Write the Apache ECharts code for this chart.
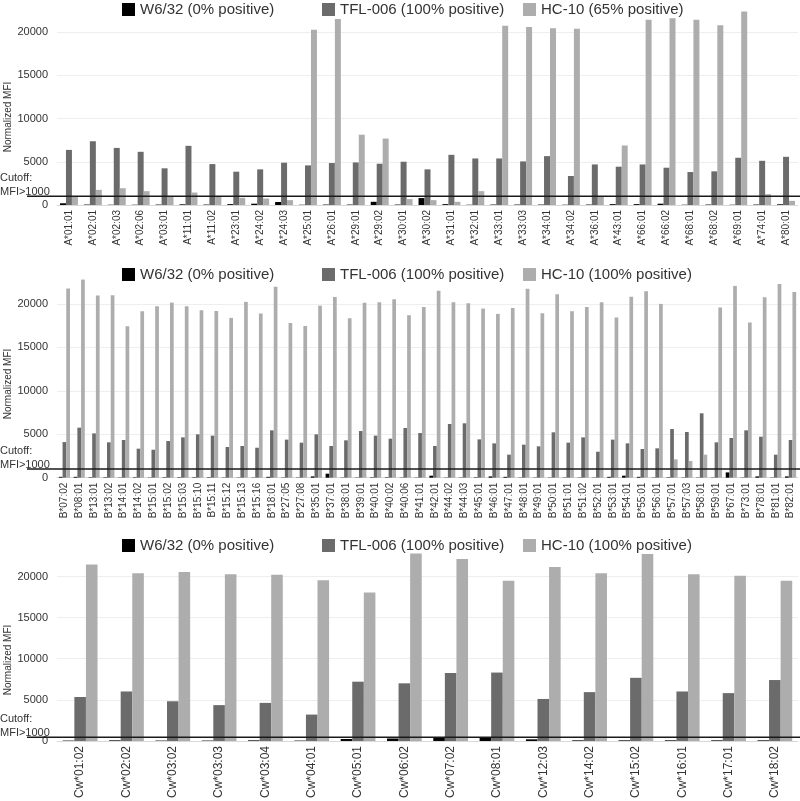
<!DOCTYPE html>
<html>
<head>
<meta charset="utf-8">
<script src="https://cdn.jsdelivr.net/npm/echarts@6/dist/echarts.min.js"></script>
<style>
  html, body { margin: 0; padding: 0; background: #fff; }
  #chart { width: 800px; height: 801px; }
</style>
</head>
<body>
<div id="chart"></div>
<script>
// HLA-A panel
var aAlleles = ['A*01:01','A*02:01','A*02:03','A*02:06','A*03:01','A*11:01','A*11:02','A*23:01','A*24:02','A*24:03',
  'A*25:01','A*26:01','A*29:01','A*29:02','A*30:01','A*30:02','A*31:01','A*32:01','A*33:01','A*33:03',
  'A*34:01','A*34:02','A*36:01','A*43:01','A*66:01','A*66:02','A*68:01','A*68:02','A*69:01','A*74:01','A*80:01'];
var aW632 = [200,50,30,30,50,80,50,100,150,350, 30,50,50,370,50,800,100,30,50,50, 50,30,50,100,100,150,30,50,30,50,80];
var aTFL = [6370,7370,6600,6150,4240,6840,4730,3850,4120,4890, 4580,4850,4920,4770,5000,4120,5800,5380,5380,5040,
  5650,3350,4690,4430,4690,4310,3810,3890,5460,5110,5570];
var aHC10 = [980,1750,1940,1600,1020,1440,1000,830,750,560, 20270,21500,8130,7680,680,560,370,1600,20730,20580,
  20420,20380,940,6880,21420,21600,21420,20770,22380,1250,480];

// HLA-B panel
var bAlleles = ['B*07:02','B*08:01','B*13:01','B*13:02','B*14:01','B*14:02','B*15:01','B*15:02','B*15:03','B*15:10',
  'B*15:11','B*15:12','B*15:13','B*15:16','B*18:01','B*27:05','B*27:08','B*35:01','B*37:01','B*38:01',
  'B*39:01','B*40:01','B*40:02','B*40:06','B*41:01','B*42:01','B*44:02','B*44:03','B*45:01','B*46:01',
  'B*47:01','B*48:01','B*49:01','B*50:01','B*51:01','B*51:02','B*52:01','B*53:01','B*54:01','B*55:01',
  'B*56:01','B*57:01','B*57:03','B*58:01','B*59:01','B*67:01','B*73:01','B*78:01','B*81:01','B*82:01'];
var bW632 = [100,100,50,50,30,50,30,50,50,50, 50,30,30,30,100,30,30,150,460,30,
  30,50,50,30,30,230,30,30,50,150, 100,30,30,30,30,30,30,100,230,100,
  30,50,30,30,30,610,30,150,30,150];
var bTFL = [4100,5760,5100,4070,4340,3340,3220,4220,4640,4990, 4840,3530,3650,3450,5450,4380,4030,4990,3650,4300,
  5370,4840,4490,5720,5140,3650,6180,6260,4410,3950, 2650,3800,3610,5220,4030,4640,2990,4380,3950,3300,
  3380,5600,5260,7410,4070,4570,5450,4720,2650,4340];
var bHC10 = [21770,22800,20960,21000,17430,19160,19730,20150,19730,19270, 19190,18390,20230,18890,21960,17810,17470,19800,20800,18350,
  20120,20190,20540,18700,19650,21500,20190,20080,19460,18850, 19540,21730,18930,21110,19160,19650,20190,18430,20810,21460,
  20000,2110,1920,2650,19580,22070,17850,20770,22300,21380];

// HLA-C panel
var cAlleles = ['Cw*01:02','Cw*02:02','Cw*03:02','Cw*03:03','Cw*03:04','Cw*04:01','Cw*05:01','Cw*06:02',
  'Cw*07:02','Cw*08:01','Cw*12:03','Cw*14:02','Cw*15:02','Cw*16:01','Cw*17:01','Cw*18:02'];
var cW632 = [50,80,50,50,80,50,240,300,360,480,200,80,80,80,80,80];
var cTFL = [5350,6020,4830,4360,4630,3210,7210,7010,8280,8320,5110,5940,7680,6020,5820,7410];
var cHC10 = [21470,20400,20550,20280,20200,19560,18060,22800,22140,19490,21150,20400,22730,20280,20080,19490];

var cutoff = [1000, 1000];
var seriesNames = [
  ['W6/32 (0% positive)', 'TFL-006 (100% positive)', 'HC-10 (65% positive)'],
  ['W6/32 (0% positive)', 'TFL-006 (100% positive)', 'HC-10 (100% positive)'],
  ['W6/32 (0% positive)', 'TFL-006 (100% positive)', 'HC-10 (100% positive)']
];
var colors = ['#000000', '#6b6b6b', '#adadad'];

var panels = [
  { cats: aAlleles, vals: [aW632, aTFL, aHC10], zero: 205, pxPerK: 8.65, max: 23000, legendY: 2, font: 10, nameY: 117 },
  { cats: bAlleles, vals: [bW632, bTFL, bHC10], zero: 477.7, pxPerK: 8.69, max: 24000, legendY: 267, font: 10, nameY: 384 },
  { cats: cAlleles, vals: [cW632, cTFL, cHC10], zero: 745.7, pxPerK: 8.42, max: 24000, legendY: 538, font: 12, nameY: 660 }
];

var FONT = 'Liberation Sans';
var grid = [], xAxis = [], yAxis = [], series = [], legend = [], graphic = [];
var legendX = [122, 322, 523];

panels.forEach(function (p, i) {
  var h = p.max / 1000 * p.pxPerK;
  var top = p.zero - h;
  // bar grid
  grid.push({ left: 57, right: 2, top: top, height: h });
  xAxis.push({
    type: 'category', gridIndex: 2 * i, data: p.cats,
    axisLine: { lineStyle: { color: '#d9d9d9' } },
    axisTick: { show: false },
    axisLabel: { rotate: 90, interval: 0, margin: 5, fontSize: p.font, color: '#333', fontFamily: FONT }
  });
  yAxis.push({
    type: 'value', gridIndex: 2 * i, min: 0, max: p.max, interval: 5000,
    axisLine: { show: false }, axisTick: { show: false },
    axisLabel: { showMaxLabel: false, fontSize: 11, color: '#333', fontFamily: FONT, margin: 9,
      formatter: function (v) { return String(v); } },
    splitLine: { showMaxLine: false, lineStyle: { color: '#eeeeee' } }
  });
  // overlay grid for the cutoff line, it runs into the label area
  grid.push({ left: 27, right: 0, top: top, height: h });
  xAxis.push({ type: 'category', gridIndex: 2 * i + 1, data: ['start', 'end'], boundaryGap: false, show: false });
  yAxis.push({ type: 'value', gridIndex: 2 * i + 1, min: 0, max: p.max, show: false });

  for (var s = 0; s < 3; s++) {
    series.push({
      name: seriesNames[i][s], type: 'bar',
      xAxisIndex: 2 * i, yAxisIndex: 2 * i,
      data: p.vals[s], barGap: 0, barCategoryGap: '25%',
      itemStyle: { color: colors[s] },
      silent: true
    });
    legend.push({
      data: [seriesNames[i][s]], left: legendX[s], top: p.legendY, padding: 0,
      itemWidth: 13, itemHeight: 13, itemGap: 0, selectedMode: false,
      textStyle: { fontSize: 15, color: '#333', fontFamily: FONT },
      icon: 'rect'
    });
  }
  series.push({
    type: 'line', xAxisIndex: 2 * i + 1, yAxisIndex: 2 * i + 1,
    data: cutoff, symbol: 'none', silent: true, z: 5,
    lineStyle: { color: '#1a1a1a', width: 1.5 }
  });

  graphic.push({
    type: 'text', left: 0, top: p.zero - p.pxPerK - 25,
    style: { text: 'Cutoff:\nMFI>1000', fontSize: 11, lineHeight: 14, fill: '#333', fontFamily: FONT }
  });
  graphic.push({
    type: 'text', x: 8, y: p.nameY, rotation: Math.PI / 2,
    style: { text: 'Normalized MFI', fontSize: 10, fill: '#333', fontFamily: FONT, align: 'center', verticalAlign: 'middle' }
  });
});

var chart = echarts.init(document.getElementById('chart'));
chart.setOption({
  animation: false,
  grid: grid, xAxis: xAxis, yAxis: yAxis,
  legend: legend, series: series, graphic: graphic
});
</script>
</body>
</html>
